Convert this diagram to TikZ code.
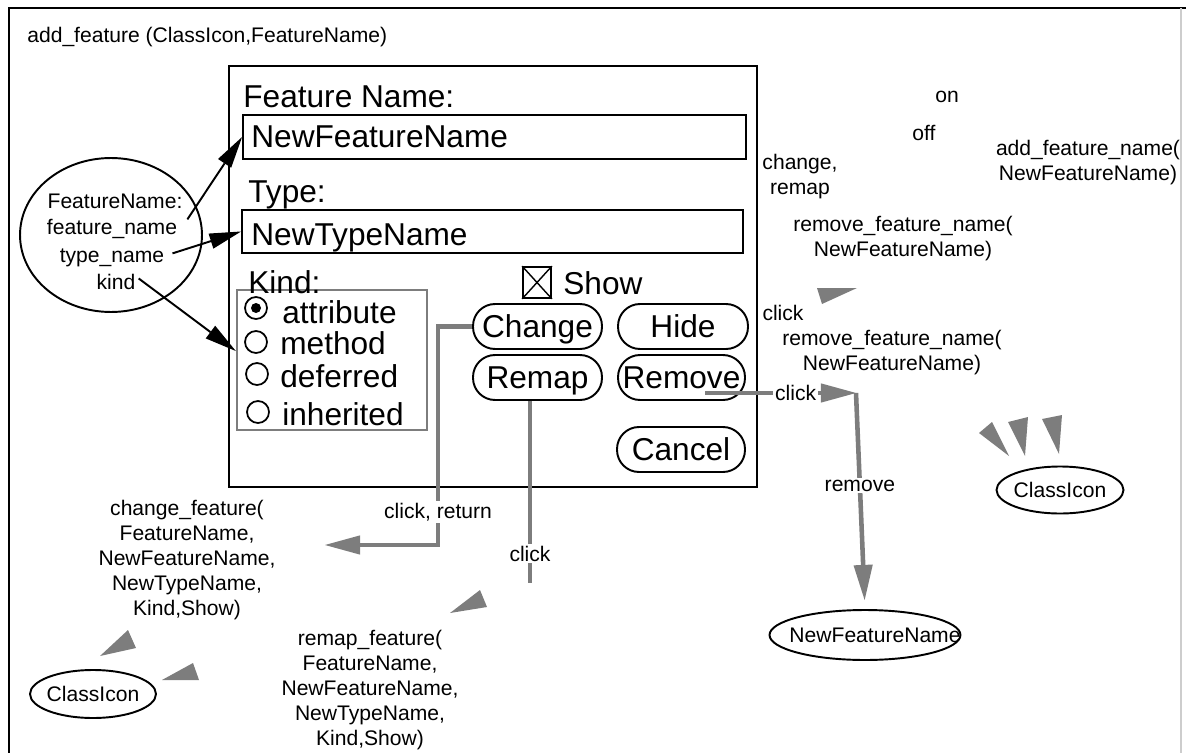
\documentclass[tikz,border=0pt]{standalone}
\usepackage{fontspec}
\setmainfont{Liberation Sans}
\usepackage{tikz}
\usetikzlibrary{shapes.geometric, arrows.meta, positioning, calc}
\definecolor{dithergray}{RGB}{125,125,125}
\definecolor{framegray}{RGB}{205,205,205}

\begin{document}
\begin{tikzpicture}[
    x=0.02cm, y=-0.02cm,
    font=\fontsize{12}{14.2}\selectfont,
    big/.style={font=\fontsize{18}{21}\selectfont},
    txt/.style={inner sep=0pt, anchor=base west},
    word/.style={inner sep=0pt, anchor=base},
    multi/.style={align=center, inner sep=0pt},
    field/.style={draw, line width=1.1pt, inner sep=0pt},
    button/.style={draw, line width=1.1pt, rounded corners=0.44cm, minimum height=0.9cm, inner sep=0pt, text height=12.9pt, text depth=0pt, big},
    radio/.style={draw, circle, line width=1pt, minimum size=0.44cm, inner sep=0pt},
    oval/.style={draw, ellipse, line width=1.1pt, inner sep=0pt},
    arrow/.style={-{Triangle[length=18pt,width=9pt,line width=0pt]}, line width=1.1pt},
    greyline/.style={draw=dithergray, line width=2.6pt},
    greyarrow/.style={greyline, -{Triangle[length=20pt,width=11pt,line width=0pt]}},
    lbl/.style={fill=white, inner sep=1pt}
]
\useasboundingbox (0,0) rectangle (1186,753);

% Frame and title
\draw[line width=1.1pt] (9,753) -- (9,8) -- (1186,8);
\draw[framegray, line width=0.8pt] (1181,8) -- (1181,753);
\node[txt] (title) at (27,43) {add\_feature (ClassIcon,FeatureName)};

% Dialog box
\node[draw, line width=1.1pt, minimum width=10.56cm, minimum height=8.42cm] (dlg) at (493,276.5) {};

\node[txt, big] (fnlabel) at (243,108) {Feature Name:};
\node[field, minimum width=10.06cm, minimum height=0.88cm] (nfield) at (494.5,137) {};
\node[txt, big] (nfname) at (251,148) {NewFeatureName};

\node[txt, big] (typelabel) at (248,203) {Type:};
\node[field, minimum width=10.02cm, minimum height=0.86cm] (tfield) at (492.5,231.5) {};
\node[txt, big] (ntname) at (251,245) {NewTypeName};

% Kind radio group
\node[draw=dithergray, line width=1.4pt, minimum width=3.8cm, minimum height=2.8cm, inner sep=0pt] (kgroup) at (332,360) {};
\node[txt, big] (kindlabel) at (248,293) {Kind:};
\node[radio] (rattr) at (256,308) {};
\fill (rattr.center) circle [radius=0.1cm];
\node[radio] (rmeth) at (256,342) {};
\node[radio] (rdefr) at (257,374) {};
\node[radio] (rinhr) at (258,412) {};
\node[txt, big] (tattr) at (282,323) {attribute};
\node[txt, big] (tmeth) at (280,354) {method};
\node[txt, big] (tdefr) at (280,387) {deferred};
\node[txt, big] (tinhr) at (282,425) {inherited};

% Show checkbox
\node[draw, line width=1pt, minimum width=0.56cm, minimum height=0.62cm, inner sep=0pt] (showbox) at (537,282.5) {};
\draw[line width=0.8pt] (showbox.north west) -- (showbox.south east) (showbox.north east) -- (showbox.south west);
\node[txt, big] (showlabel) at (563,294) {Show};

% Buttons
\node[button, minimum width=2.58cm] (chg) at (537.5,326.5) {Change};
\node[button, minimum width=2.6cm] (hide) at (683,326.5) {Hide};
\node[button, minimum width=2.58cm] (rmp) at (537.5,377.5) {Remap};
\node[button, minimum width=2.54cm] (rmv) at (681.5,377.5) {Remove};
\node[button, minimum width=2.56cm] (cncl) at (681,449.5) {Cancel};

% FeatureName oval
\node[oval, minimum width=3.64cm, minimum height=3.08cm] (fnoval) at (111,235) {};
\node[word] (fnl1) at (115,209) {FeatureName:};
\node[word] (fnl2) at (112,235) {feature\_name};
\node[word] (fnl3) at (112,262) {type\_name};
\node[word] (fnl4) at (116,289) {kind};

\draw[arrow] ([xshift=0.2cm]fnl2.north east) -- (nfield.west);
\draw[arrow] ([xshift=0.16cm, yshift=0.08cm]fnl3.east) -- (tfield.west);
\draw[arrow] ([xshift=0.06cm, yshift=0.06cm]fnl4.east) -- ([yshift=0.18cm]kgroup.west);

% Result ovals
\node[oval, minimum width=2.52cm, minimum height=0.96cm, label=center:ClassIcon] (clsleft) at (93,694) {};
\node[oval, minimum width=2.54cm, minimum height=0.94cm, label=center:ClassIcon] (clsright) at (1060,490) {};
\node[oval, minimum width=3.82cm, minimum height=1.0cm, label={[xshift=0.2cm]center:NewFeatureName}] (nfn) at (865,635) {};

% Change connector
\coordinate (chgdown) at (438,545);
\coordinate (chgtip) at (325,545);
\draw[greyarrow] (chg.west) -- (chg.west -| chgdown) -- node[lbl, pos=0.85] {click, return} (chgdown) -- (chgtip);

% Remap connector
\coordinate (rmpend) at (530,583);
\draw[greyline] (rmp.south -| rmpend) -- node[lbl, pos=0.84] {click} (rmpend);

% Remove connector
\coordinate (rmvout) at (705,393);
\coordinate (rmvbend) at (856,393);
\draw[greyarrow] (rmvout) -- node[lbl, pos=0.6] {click} (rmvbend);
\draw[greyarrow, shorten >=0.18cm] (rmvbend) -- node[lbl, pos=0.43] {remove} (nfn.north);

% Messages
\node[multi] (chgcall) at (187,560) {change\_feature(\\FeatureName,\\NewFeatureName,\\NewTypeName,\\Kind,Show)};
\node[multi] (rmpcall) at (370,690) {remap\_feature(\\FeatureName,\\NewFeatureName,\\NewTypeName,\\Kind,Show)};
\node[multi] (addcall) at (1088,163) {add\_feature\_name(\\NewFeatureName)};
\node[multi] (rmvcallup) at (903,239) {remove\_feature\_name(\\NewFeatureName)};
\node[multi] (rmvcalldn) at (892,353) {remove\_feature\_name(\\NewFeatureName)};
\node[multi] (chgremap) at (800,177) {change,\\remap};
\node[word] (onlbl) at (947,103) {on};
\node[word] (offlbl) at (924,141) {off};
\node[word] (clickup) at (783,320) {click};

% Loose arrowheads
\fill[dithergray] (817,288) -- (857,288) -- (822,304) -- cycle;
\fill[dithergray] (979,433) -- (992,422) -- (1009,456) -- cycle;
\fill[dithergray] (1008,422) -- (1028,417) -- (1025,456) -- cycle;
\fill[dithergray] (1042,419) -- (1062,415) -- (1059,454) -- cycle;
\fill[dithergray] (100,656) -- (128,630) -- (136,648) -- cycle;
\fill[dithergray] (162,680) -- (193,663) -- (199,680) -- cycle;
\fill[dithergray] (450,613) -- (480,590) -- (487,607) -- cycle;

\end{tikzpicture}
\end{document}
